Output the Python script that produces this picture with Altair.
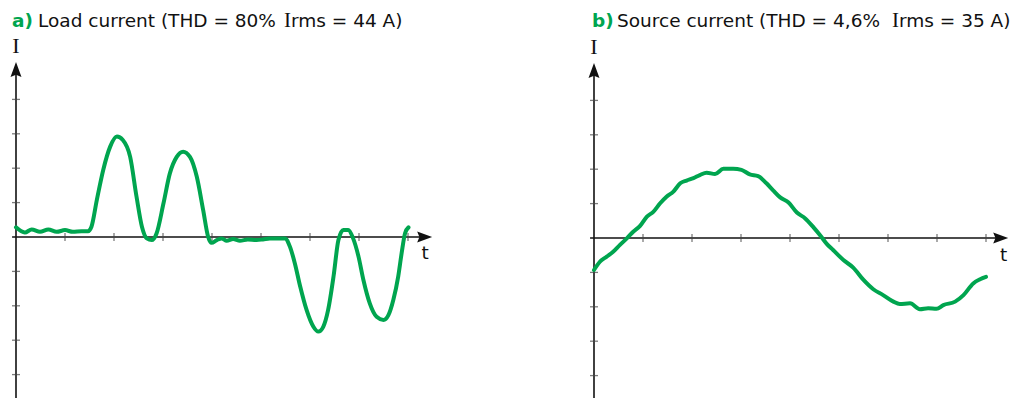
import altair as alt
import pandas as pd

# ---------------- data (t in time divisions, I in current divisions) ----------------
t_load = [0.0, 0.18, 0.32, 0.49, 0.66, 0.83, 1.0, 1.16, 1.34, 1.47, 1.54, 1.65, 1.78, 1.92,
          2.06, 2.18, 2.33, 2.46, 2.57, 2.67, 2.77, 2.87, 3.01, 3.14, 3.28, 3.41, 3.55, 3.69,
          3.82, 3.92, 3.99, 4.10, 4.20, 4.30, 4.43, 4.57, 4.73, 4.91, 5.04, 5.18, 5.49, 5.59,
          5.69, 5.80, 5.93, 6.07, 6.17, 6.27, 6.37, 6.48, 6.58, 6.68, 6.78, 6.88, 6.99, 7.09,
          7.22, 7.36, 7.50, 7.60, 7.70, 7.80, 7.87, 7.94, 8.01]
i_load = [0.28, 0.13, 0.22, 0.15, 0.22, 0.15, 0.20, 0.15, 0.17, 0.17, 0.30, 1.08, 1.95, 2.62,
          2.92, 2.82, 2.33, 1.17, 0.30, -0.04, -0.09, 0.11, 0.98, 1.85, 2.33, 2.48, 2.33, 1.75,
          0.78, 0.01, -0.17, -0.09, -0.04, -0.11, -0.06, -0.11, -0.07, -0.09, -0.07, -0.04, -0.04, -0.28,
          -0.76, -1.44, -2.12, -2.61, -2.75, -2.61, -2.12, -1.15, -0.09, 0.20, 0.20, -0.04, -0.57, -1.25,
          -1.93, -2.32, -2.41, -2.27, -1.83, -1.15, -0.47, 0.11, 0.28]

t_src = [0.0, 0.12, 0.26, 0.39, 0.53, 0.67, 0.80, 0.94, 1.08, 1.21, 1.35, 1.48, 1.62, 1.76,
         1.89, 2.03, 2.16, 2.30, 2.47, 2.64, 2.84, 3.01, 3.18, 3.35, 3.52, 3.66, 3.80, 3.97,
         4.14, 4.31, 4.48, 4.61, 4.75, 4.88, 5.09, 5.29, 5.50, 5.70, 5.90, 6.11, 6.24, 6.45,
         6.65, 6.82, 6.99, 7.13, 7.37, 7.54, 7.74, 7.88, 8.0]
i_src = [-0.93, -0.69, -0.54, -0.40, -0.20, -0.01, 0.18, 0.35, 0.62, 0.76, 1.01, 1.20, 1.35, 1.59,
         1.67, 1.74, 1.83, 1.90, 1.86, 2.01, 2.01, 1.98, 1.85, 1.80, 1.59, 1.38, 1.18, 1.03,
         0.74, 0.57, 0.31, 0.09, -0.17, -0.35, -0.64, -0.86, -1.22, -1.49, -1.66, -1.85, -1.92, -1.90,
         -2.07, -2.04, -2.06, -1.95, -1.85, -1.66, -1.32, -1.20, -1.13]

x_ticks = [1, 2, 3, 4, 5, 6, 7, 8]
y_ticks = [-4, -3, -2, -1, 1, 2, 3, 4]

title_a = ["a)", "Load current (THD = 80% ", "I", "rms = 44 A)"]
title_b = ["b)", "Source current (THD = 4,6% ", "I", "rms = 35 A)"]
axis_labels = ["I", "t"]

# ---------------- style / layout ----------------
GREEN = "#00a54f"
INK = "#111111"
TICK = "#444444"
PX_T = 49.0      # pixels per time division
PX_I = 34.4      # pixels per current division
H = 390
SANS = "DejaVu Sans"
SERIF = "Liberation Serif"
ARROW_RIGHT = "M1,0L-1,-0.73L-0.7,0L-1,0.73Z"
ARROW_UP = "M0,-1L0.73,1L0,0.7L-0.73,1Z"


def panel(t, i, title, x_dom, zero_px, arrow_x, t_label_pos, title_x):
    y_max = zero_px / PX_I
    y_dom = [y_max - H / PX_I, y_max]
    width = (x_dom[1] - x_dom[0]) * PX_T
    xs = alt.Scale(domain=x_dom, nice=False, zero=False)
    ys = alt.Scale(domain=y_dom, nice=False, zero=False)

    def X(f):
        return alt.X(f, type="quantitative", scale=xs, axis=None)

    def Y(f):
        return alt.Y(f, type="quantitative", scale=ys, axis=None)

    x_axis = alt.Chart(pd.DataFrame({"x": [-0.08], "x2": [arrow_x], "y": [0]})).mark_rule(
        color=INK, strokeWidth=1.6).encode(x=X("x"), x2="x2", y=Y("y"))
    y_axis = alt.Chart(pd.DataFrame({"x": [0], "y": [y_dom[0]], "y2": [4.87]})).mark_rule(
        color=INK, strokeWidth=1.6).encode(x=X("x"), y=Y("y"), y2="y2")

    xt = alt.Chart(pd.DataFrame({"t": x_ticks, "z": [0] * len(x_ticks)})).mark_tick(
        orient="vertical", size=8, thickness=1.3, color=TICK).encode(x=X("t"), y=Y("z"))
    yt = alt.Chart(pd.DataFrame({"v": y_ticks, "z": [0] * len(y_ticks)})).mark_tick(
        orient="horizontal", size=8, thickness=1.3, color=TICK).encode(x=X("z"), y=Y("v"))

    arr_x = alt.Chart(pd.DataFrame({"x": [arrow_x], "y": [0]})).mark_point(
        shape=ARROW_RIGHT, filled=True, size=225, color=INK, opacity=1, strokeWidth=0
    ).encode(x=X("x"), y=Y("y"))
    arr_y = alt.Chart(pd.DataFrame({"x": [0], "y": [4.87]})).mark_point(
        shape=ARROW_UP, filled=True, size=225, color=INK, opacity=1, strokeWidth=0
    ).encode(x=X("x"), y=Y("y"))

    curve = alt.Chart(pd.DataFrame({"t": t, "i": i})).mark_line(
        color=GREEN, strokeWidth=4, interpolate="monotone", strokeCap="round", strokeJoin="round"
    ).encode(x=X("t"), y=Y("i"))

    lab_i = alt.Chart(pd.DataFrame({"x": [0], "y": [5.34], "s": [axis_labels[0]]})).mark_text(
        font=SERIF, fontSize=22, baseline="alphabetic", align="center", color=INK
    ).encode(x=X("x"), y=Y("y"), text="s")
    lab_t = alt.Chart(pd.DataFrame({"x": [t_label_pos[0]], "y": [t_label_pos[1]],
                                    "s": [axis_labels[1]]})).mark_text(
        font=SANS, fontSize=18.5, baseline="alphabetic", align="center", color=INK
    ).encode(x=X("x"), y=Y("y"), text="s")

    ty = 18.5
    fonts = [(SANS, "bold", GREEN, 18.5), (SANS, "normal", INK, 18.5),
             (SERIF, "normal", INK, 21), (SANS, "normal", INK, 18.5)]
    title_layers = []
    for txt, px, (fnt, fw, col, fs) in zip(title, title_x, fonts):
        title_layers.append(
            alt.Chart(pd.DataFrame({"s": [txt]})).mark_text(
                font=fnt, fontWeight=fw, fontSize=fs, color=col, align="left", baseline="alphabetic"
            ).encode(x=alt.value(px), y=alt.value(ty), text="s")
        )

    return alt.layer(x_axis, y_axis, xt, yt, curve, arr_x, arr_y, lab_i, lab_t,
                     *title_layers).properties(width=width, height=H)


x_min = -8.0 / PX_T
pa = panel(t_load, i_load, title_a, [x_min, x_min + 441 / PX_T], 229, 8.34, (8.35, -0.64),
           [4, 30, 276, 283])
pb = panel(t_src, i_src, title_b, [x_min, x_min + 426 / PX_T], 230, 8.30, (8.36, -0.67),
           [6, 31, 306, 313])

chart = alt.hconcat(pa, pb, spacing=137).properties(padding=0).configure_view(stroke=None)

chart.save("out.html", embed_options={"renderer": "svg", "actions": False})
